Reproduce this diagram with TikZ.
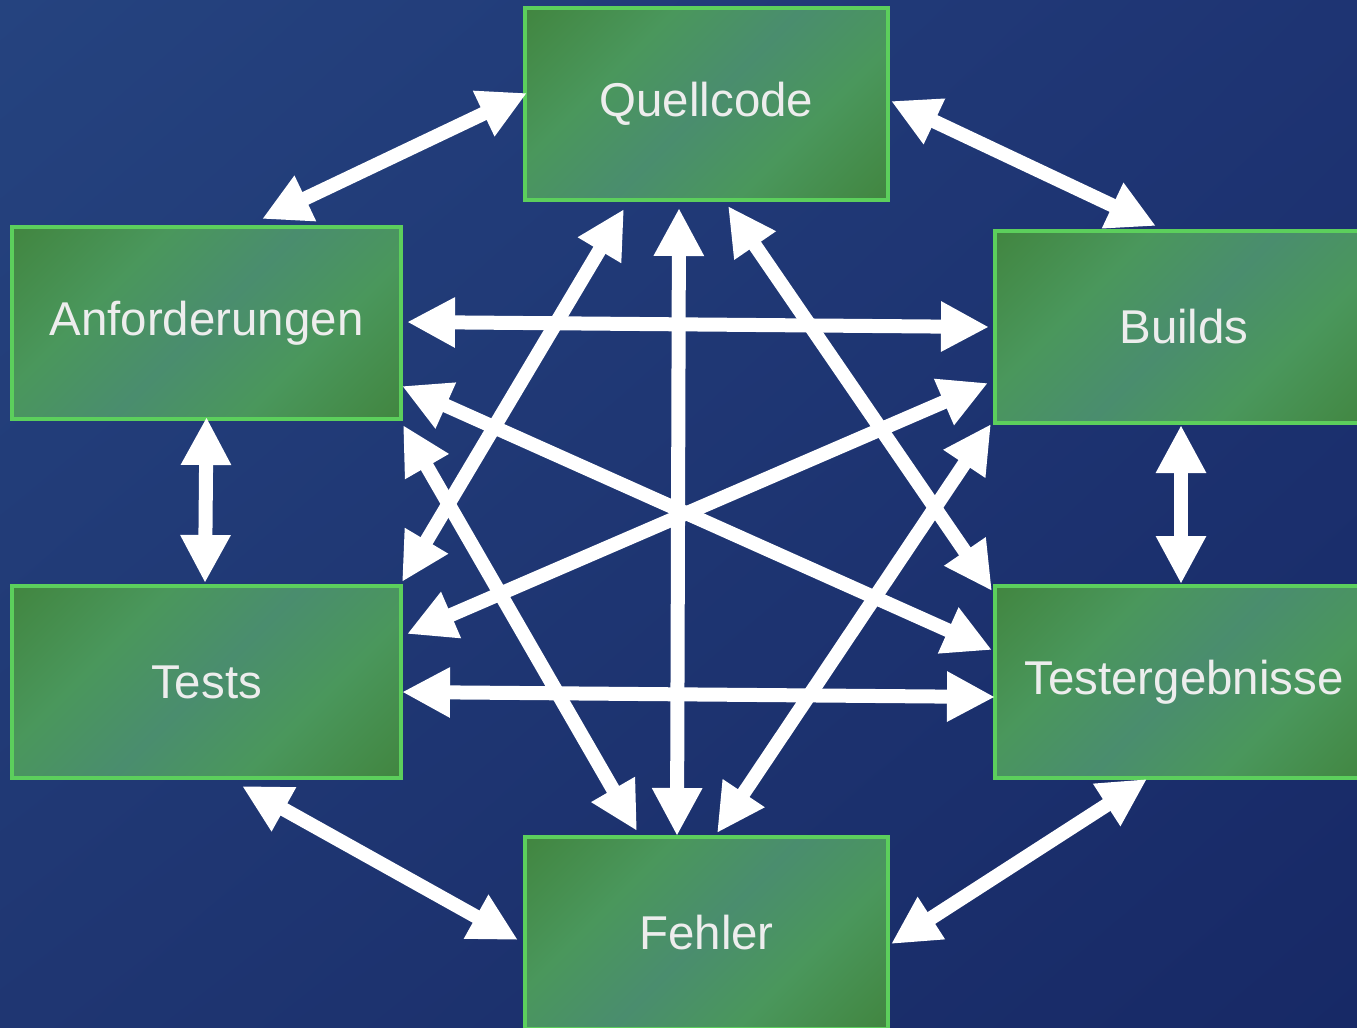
\documentclass[tikz,border=0pt]{standalone}
\usepackage{fontspec}
\setmainfont{Liberation Sans}
\usetikzlibrary{fit,arrows.meta,shadings}

\definecolor{bgul}{HTML}{25437F}
\definecolor{bgur}{HTML}{1E3473}
\definecolor{bgll}{HTML}{1F3672}
\definecolor{bglr}{HTML}{172966}
\definecolor{gdark}{HTML}{41853F}
\definecolor{gmid}{HTML}{4A975C}
\definecolor{gteal}{HTML}{4A8D6E}
\definecolor{grand}{HTML}{5CCF5C}
\definecolor{schrift}{HTML}{EDEDED}
\pgfdeclarehorizontalshading{kastenshade}{100bp}{color(0bp)=(gdark); color(14bp)=(gdark); color(34bp)=(gmid); color(50bp)=(gteal); color(66bp)=(gmid); color(86bp)=(gdark); color(100bp)=(gdark)}

\begin{document}
\begin{tikzpicture}[
    kasten/.style={draw=grand, line width=0.9pt, shade, shading=kastenshade, shading angle=-45, inner sep=0pt, outer sep=0pt},
    pfeil/.style={draw=white, line width=0.14cm, {Triangle[length=0.48cm,width=0.47cm]}-{Triangle[length=0.48cm,width=0.47cm]}},
    every label/.style={text=schrift, font=\fontsize{13.5}{16}\selectfont}
]
        \useasboundingbox (0,0) rectangle (13.57,-10.28);
        \clip (0,0) rectangle (13.57,-10.28);
        \shade[upper left=bgul, upper right=bgur, lower left=bgll, lower right=bglr] (0,0) rectangle (13.57,-10.28);

        \node[kasten, fit={(5.25,-0.08) (8.88,-2.00)},  label=center:Quellcode]      (Q) {};
        \node[kasten, fit={(0.12,-2.27) (4.01,-4.19)},  label=center:Anforderungen]  (A) {};
        \node[kasten, fit={(9.95,-2.31) (13.73,-4.23)}, label=center:Builds]         (B) {};
        \node[kasten, fit={(0.12,-5.86) (4.01,-7.78)},  label=center:Tests]          (T) {};
        \node[kasten, fit={(9.95,-5.86) (13.73,-7.78)}, label=center:Testergebnisse] (E) {};
        \node[kasten, fit={(5.25,-8.37) (8.88,-10.29)}, label=center:Fehler]         (F) {};

        \draw[pfeil] ([xshift=0.02cm,yshift=0.11cm]Q.west)   -- ([xshift=0.555cm,yshift=0.08cm]A.north);
        \draw[pfeil] ([xshift=0.03cm,yshift=0.03cm]Q.east)   -- ([xshift=-0.28cm,yshift=0.05cm]B.north);
        \draw[pfeil] ([yshift=0.02cm]A.south)                -- ([xshift=-0.015cm,yshift=0.03cm]T.north);
        \draw[pfeil] ([xshift=-0.03cm,yshift=-0.02cm]B.south) -- ([xshift=-0.03cm,yshift=0.02cm]E.north);
        \draw[pfeil] ([xshift=0.355cm,yshift=-0.08cm]T.south) -- ([xshift=-0.07cm,yshift=-0.07cm]F.west);
        \draw[pfeil] ([xshift=-0.37cm,yshift=-0.01cm]E.south) -- ([xshift=0.03cm,yshift=-0.11cm]F.east);

        \draw[pfeil] ([xshift=0.06cm,yshift=0.01cm]A.east)   -- ([xshift=-0.06cm]B.west);
        \draw[pfeil] ([xshift=0.01cm,yshift=-0.10cm]T.east)  -- ([yshift=-0.15cm]E.west);
        \draw[pfeil] ([xshift=-0.275cm,yshift=-0.08cm]Q.south) -- ([xshift=-0.295cm,yshift=0.01cm]F.north);

        \draw[pfeil] ([xshift=-0.825cm,yshift=-0.09cm]Q.south) -- ([xshift=0.01cm,yshift=0.04cm]T.north east);
        \draw[pfeil] ([xshift=0.215cm,yshift=-0.06cm]Q.south)  -- ([xshift=-0.03cm,yshift=-0.05cm]E.north west);
        \draw[pfeil] ([xshift=0.01cm,yshift=0.33cm]A.south east)  -- ([xshift=-0.03cm,yshift=0.32cm]E.west);
        \draw[pfeil] ([xshift=0.02cm,yshift=-0.06cm]A.south east) -- ([xshift=-0.695cm,yshift=0.06cm]F.north);
        \draw[pfeil] ([xshift=-0.07cm,yshift=0.40cm]B.south west) -- ([xshift=0.06cm,yshift=0.48cm]T.east);
        \draw[pfeil] ([xshift=-0.04cm,yshift=-0.01cm]B.south west) -- ([xshift=0.105cm,yshift=0.04cm]F.north);
    \end{tikzpicture}
\end{document}
